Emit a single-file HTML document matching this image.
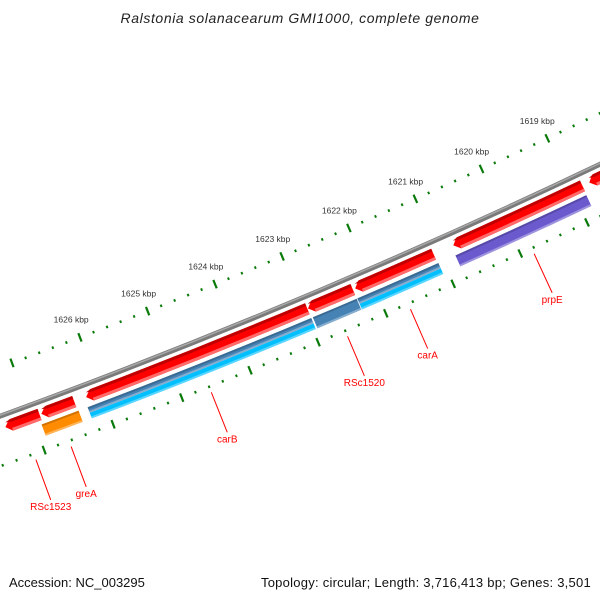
<!DOCTYPE html>
<html><head><meta charset="utf-8"><style>
html,body{margin:0;padding:0;background:#fff;}
svg{display:block;}
</style></head><body>
<svg id="map" width="600" height="600" viewBox="0 0 600 600" xmlns="http://www.w3.org/2000/svg">
<text x="300" y="23" text-anchor="middle" font-family="Liberation Sans, sans-serif" font-size="14" letter-spacing="0.6" font-style="italic" fill="#222">Ralstonia solanacearum GMI1000, complete genome</text>
<text x="9" y="587" font-family="Liberation Sans, sans-serif" font-size="13" fill="#111">Accession: NC_003295</text>
<text x="591" y="587" text-anchor="end" font-family="Liberation Sans, sans-serif" font-size="13" letter-spacing="0.25" fill="#111">Topology: circular; Length: 3,716,413 bp; Genes: 3,501</text>
<g id="layer"></g>
</svg>
<script>
// ---- data ----
const tickKbp = [1618,1619,1620,1621,1622,1623,1624,1625,1626,1627,1628];
const tickLabels = ["1619 kbp","1620 kbp","1621 kbp","1622 kbp","1623 kbp","1624 kbp","1625 kbp","1626 kbp"];
const tickLabelKbp = [1619,1620,1621,1622,1623,1624,1625,1626];
const redNames = ["RSc1523","gene-2","carB","gene-4","carA","prpE","gene-7"];
const redStart = [1626891,1626385,1622958,1622284,1621080,1618843,1618300];
const redEnd   = [1627388,1626865,1626212,1622949,1622249,1620785,1618740];
const ring2Names = ["greA","carB-a","carB-b","RSc1520","carA-a","carA-b","prpE"];
const ring2Start = [1626374,1622958,1622958,1622286,1621069,1621069,1618850];
const ring2End   = [1626912,1626242,1626242,1622935,1622276,1622276,1620815];
const ring2Slot  = ["full","top","bottom","full","top","bottom","full"];
const ring2Color = ["#ff8c00","#4682b4","#00bfff","#4682b4","#4682b4","#00bfff","#6a5acd"];
const geneLabels = ["RSc1523","greA","carB","RSc1520","carA","prpE"];
const geneLabelKbp = [1627.15,1626.64,1624.6,1622.6,1621.67,1619.83];

// ---- geometry ----
const CX=-2300, CY=-5900;
const R_BACK=6722, R_UP=6676, R_LOW=6769;
const R1a=6728, R1b=6740, R2a=6744, R2b=6756;
const DEG=Math.PI/180;
function ang(bp){ return (69.115 + (bp/1000-1626)*0.623)*DEG; }
function pt(bp,r){ const a=ang(bp); return [CX+r*Math.cos(a), CY+r*Math.sin(a)]; }
function f(p){ return p[0].toFixed(2)+","+p[1].toFixed(2); }
function arcPath(b1,b2,r){
  return "M"+f(pt(b1,r))+" A"+r+","+r+" 0 0 1 "+f(pt(b2,r));
}
const NS="http://www.w3.org/2000/svg";
const layer=document.getElementById('layer');
function mk(tag,attrs,parent){ const e=document.createElementNS(NS,tag); for(const k in attrs) e.setAttribute(k,attrs[k]); (parent||layer).appendChild(e); return e; }
const BPPX = 1000/(0.623*DEG*6735);

function bandPath(s,e,r0,r1,arrow){
  const bodyEnd = arrow ? e - 6*BPPX : e;
  let d="M"+f(pt(s,r0))+" A"+r0+","+r0+" 0 0 1 "+f(pt(bodyEnd,r0));
  if(arrow){ d+=" L"+f(pt(e,(r0+r1)/2))+" L"+f(pt(bodyEnd,r1)); }
  else d+=" L"+f(pt(e,r1));
  d+=" A"+r1+","+r1+" 0 0 0 "+f(pt(s,r1))+" Z";
  return d;
}

const bb1=mk('path',{d:arcPath(1617000,1629000,R_BACK),stroke:'#7a7a7a','stroke-width':5,fill:'none'});


const bb2=mk('path',{d:arcPath(1617000,1629000,R_BACK-1),stroke:'#a8a8a8','stroke-width':1.5,fill:'none'});



for(let k=tickKbp[0]*1000; k<=tickKbp[tickKbp.length-1]*1000; k+=200){
  const major = (k%1000)===0;
  [[R_UP,'upper'],[R_LOW,'lower']].forEach(([r,w])=>{
    const h = major?4.5:1.3;
    const t=mk('line',{x1:pt(k,r-h)[0],y1:pt(k,r-h)[1],x2:pt(k,r+h)[0],y2:pt(k,r+h)[1],stroke:'#0a7a0a','stroke-width':major?2.2:2});
    
    
  });
}
tickLabelKbp.forEach((k,i)=>{
  const p=pt(k*1000,6657);
  const t=mk('text',{x:p[0]-2,y:p[1]+3,'text-anchor':'middle','font-family':'Liberation Sans, sans-serif','font-size':'8.5',fill:'#333'});
  t.textContent=tickLabels[i];
  
  
});

redStart.forEach((s,i)=>{
  const e=redEnd[i];
  const g=mk('g',{});
  
  
  mk('path',{d:bandPath(s,e,R1a,R1b,true),fill:'#ff0000'},g);
  mk('path',{d:bandPath(s,e-1.5*BPPX,R1a,R1a+3,true),fill:'#c00000'},g);
  mk('path',{d:bandPath(s,e-6*BPPX,R1b-3,R1b,false),fill:'#ff6a6a'},g);
});

ring2Start.forEach((s,i)=>{
  const e=ring2End[i];
  let r0=R2a,r1=R2b;
  if(ring2Slot[i]==='top') r1=(R2a+R2b)/2;
  if(ring2Slot[i]==='bottom') r0=(R2a+R2b)/2;
  const g=mk('g',{});
  
  
  mk('path',{d:bandPath(s,e,r0,r1,false),fill:ring2Color[i]},g);
  if(ring2Slot[i]!=='bottom') mk('path',{d:bandPath(s,e,r0,r0+2,false),fill:'#000',opacity:0.18},g);
  mk('path',{d:bandPath(s,e,r1-2,r1,false),fill:'#fff',opacity:0.35},g);
});

geneLabels.forEach((n,i)=>{
  const b=geneLabelKbp[i]*1000;
  const p0=pt(b,6775), p1=pt(b,6818);
  const l=mk('line',{x1:p0[0],y1:p0[1],x2:p1[0],y2:p1[1],stroke:'#ff0000','stroke-width':1});
  
  
  const t=mk('text',{x:p1[0],y:p1[1]+10,'text-anchor':'middle','font-family':'Liberation Sans, sans-serif','font-size':'10',fill:'#ff0000'});
  t.textContent=n;
  
  
});
</script>
</body></html>
